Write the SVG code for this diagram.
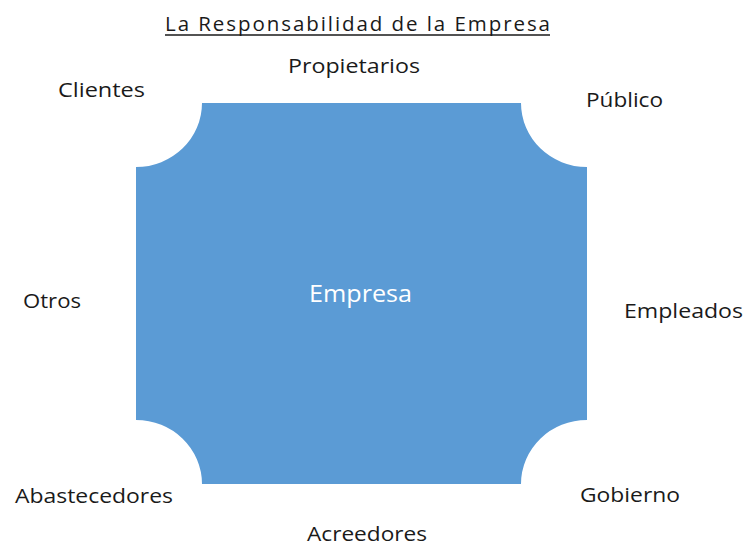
<svg xmlns="http://www.w3.org/2000/svg" width="746" height="546" viewBox="0 0 746 546">
<style>
.lbl{font-family:"Open Sans","Liberation Sans",sans-serif;font-size:19.5px;fill:#1a1a1a}
.title{font-family:"Open Sans","Liberation Sans",sans-serif;font-size:20.5px;fill:#1a1a1a}
.inner{font-family:"Open Sans","Liberation Sans",sans-serif;font-size:23px;fill:#ffffff}
</style>
<rect width="746" height="546" fill="#ffffff"/>
<g id="title">
<text class="title" x="165" y="31" textLength="385" lengthAdjust="spacing">La Responsabilidad de la Empresa</text>
<line x1="165" y1="35" x2="550" y2="35" stroke="#1a1a1a" stroke-width="1.5"/>
</g>
<g id="empresa">
<path d="M202,103 L521,103 A66,64 0 0 0 587,167 L587,420 A66,64 0 0 0 521,484 L202,484 A66,64 0 0 0 136,420 L136,167 A66,64 0 0 0 202,103 Z" fill="#5B9BD5"/>
<text class="inner" x="309" y="302" textLength="103" lengthAdjust="spacingAndGlyphs">Empresa</text>
</g>
<g id="connectors"></g>
<g id="propietarios"><text class="lbl" x="288" y="73" textLength="132" lengthAdjust="spacingAndGlyphs">Propietarios</text></g>
<g id="clientes"><text class="lbl" x="58" y="97" textLength="87" lengthAdjust="spacingAndGlyphs">Clientes</text></g>
<g id="publico"><text class="lbl" x="586" y="107" textLength="77" lengthAdjust="spacingAndGlyphs">Público</text></g>
<g id="otros"><text class="lbl" x="23" y="308" textLength="58" lengthAdjust="spacingAndGlyphs">Otros</text></g>
<g id="empleados"><text class="lbl" x="624" y="318" textLength="119" lengthAdjust="spacingAndGlyphs">Empleados</text></g>
<g id="abastecedores"><text class="lbl" x="15" y="503" textLength="158" lengthAdjust="spacingAndGlyphs">Abastecedores</text></g>
<g id="gobierno"><text class="lbl" x="580" y="502" textLength="100" lengthAdjust="spacingAndGlyphs">Gobierno</text></g>
<g id="acreedores"><text class="lbl" x="307" y="541" textLength="120" lengthAdjust="spacingAndGlyphs">Acreedores</text></g>
</svg>
